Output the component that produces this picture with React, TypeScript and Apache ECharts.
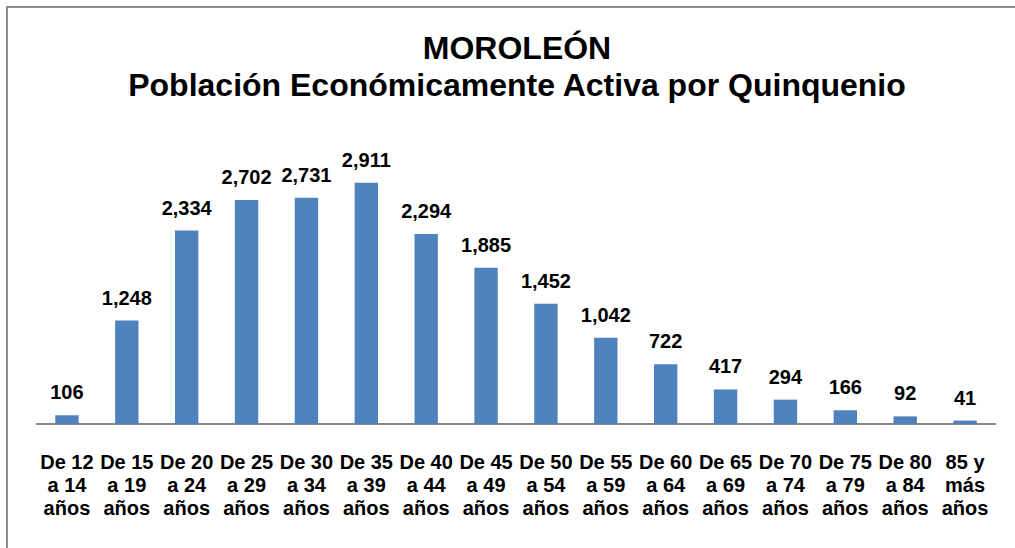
import React, { useEffect, useRef } from "react";
import * as echarts from "echarts";

const categories = [
  "De 12\na 14\naños", "De 15\na 19\naños", "De 20\na 24\naños", "De 25\na 29\naños",
  "De 30\na 34\naños", "De 35\na 39\naños", "De 40\na 44\naños", "De 45\na 49\naños",
  "De 50\na 54\naños", "De 55\na 59\naños", "De 60\na 64\naños", "De 65\na 69\naños",
  "De 70\na 74\naños", "De 75\na 79\naños", "De 80\na 84\naños", "85 y\nmás\naños",
];
const values = [106, 1248, 2334, 2702, 2731, 2911, 2294, 1885, 1452, 1042, 722, 417, 294, 166, 92, 41];
const titleLine1 = "MOROLEÓN";
const titleLine2 = "Población Económicamente Activa por Quinquenio";

export default function App() {
  const ref = useRef<HTMLDivElement>(null);
  useEffect(() => {
    const chart = echarts.init(ref.current!, null, { renderer: "svg" });
    const font = "'Liberation Sans', Arial, sans-serif";
    const titleStyle = {
      fontFamily: font,
      fontWeight: "bold",
      fontSize: 32,
      fill: "#000",
      textAlign: "center",
      textVerticalAlign: "middle",
    };
    chart.setOption({
      animation: false,
      backgroundColor: "#fff",
      graphic: [
        {
          type: "rect",
          shape: { x: 7, y: 7, width: 1200, height: 800 },
          style: { fill: "none", stroke: "#8c8c8c", lineWidth: 2 },
          silent: true,
        },
        { type: "text", x: 517, y: 48, style: { ...titleStyle, text: titleLine1 }, silent: true },
        { type: "text", x: 517, y: 85, style: { ...titleStyle, text: titleLine2 }, silent: true },
      ],
      grid: { left: 37, right: 20, top: 134, bottom: 124, containLabel: false },
      xAxis: {
        type: "category",
        data: categories,
        axisLine: { lineStyle: { color: "#868686", width: 2 } },
        axisTick: { show: false },
        axisLabel: {
          interval: 0,
          margin: 26,
          fontFamily: font,
          fontWeight: "bold",
          fontSize: 20,
          lineHeight: 23,
          color: "#000",
        },
      },
      yAxis: { type: "value", min: 0, max: 3500, show: false, splitLine: { show: false } },
      series: [
        {
          type: "bar",
          data: values,
          barWidth: "39%",
          itemStyle: { color: "#4F81BD" },
          label: {
            show: true,
            position: "top",
            distance: 13,
            fontFamily: font,
            fontWeight: "bold",
            fontSize: 20,
            color: "#000",
            formatter: (p: any) => p.value.toLocaleString("en-US"),
          },
        },
      ],
    });
    return () => chart.dispose();
  }, []);
  return <div ref={ref} style={{ position: "absolute", left: 0, top: 0, width: 1015, height: 548 }} />;
}
